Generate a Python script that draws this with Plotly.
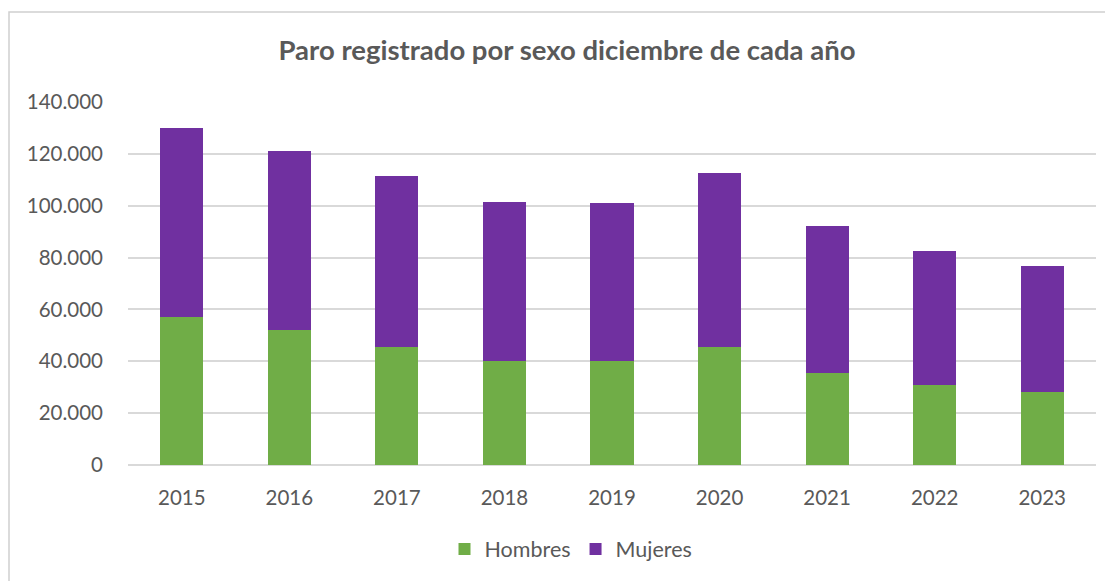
import plotly.graph_objects as go

years = ["2015", "2016", "2017", "2018", "2019", "2020", "2021", "2022", "2023"]
hombres = [57200, 52100, 45600, 40300, 40100, 45400, 35300, 31000, 28300]
mujeres = [72800, 69100, 65800, 61200, 60900, 67400, 56900, 51600, 48600]

font_c = "#595959"
grid_c = "#d9d9d9"

# la página tiene 8px de margen, así que la figura es 8px más pequeña
W, H = 1105, 573
L, R, T, B = 120, 17, 94, 116
pw, ph = W - L - R, H - T - B

fig = go.Figure()
fig.add_trace(go.Bar(x=years, y=hombres, name="Hombres", marker=dict(color="#70AD47", line=dict(width=0))))
fig.add_trace(go.Bar(x=years, y=mujeres, name="Mujeres", marker=dict(color="#7030A0", line=dict(width=0))))

fig.update_layout(
    barmode="stack", bargap=0.6,
    width=W, height=H,
    margin=dict(l=L, r=R, t=T, b=B),
    paper_bgcolor="white", plot_bgcolor="white",
    separators=",.",
    font=dict(family="Lato, Open Sans, sans-serif", size=20.5, color=font_c),
    title=dict(text="<b>Paro registrado por sexo diciembre de cada año</b>",
               font=dict(size=27.5, color=font_c),
               x=(559 - L) / pw, xref="paper", xanchor="center",
               y=1 - 42 / H, yanchor="middle"),
    legend=dict(orientation="h", x=(563 - L) / pw, xanchor="center",
                y=(T + ph - 541) / ph, yanchor="middle",
                font=dict(size=21.5, color=font_c), itemwidth=30, traceorder="normal"),
    showlegend=True,
)
fig.update_xaxes(showgrid=False, showline=False, ticks="", ticklabelstandoff=18)
fig.update_yaxes(range=[0, 140000], dtick=20000, tickformat=",d",
                 showgrid=True, gridcolor=grid_c, gridwidth=1.5,
                 zeroline=True, zerolinecolor=grid_c, zerolinewidth=1.5,
                 showline=False, ticks="", ticklabelstandoff=24)

# marco gris del gráfico
fig.add_shape(type="rect", xref="paper", yref="paper",
              x0=(1 - L) / pw, x1=1.3, y0=-0.7, y1=(T + ph - 4) / ph,
              line=dict(color="#d0d0d0", width=1.5), fillcolor="rgba(0,0,0,0)", layer="below")

fig.write_html("out.html")
